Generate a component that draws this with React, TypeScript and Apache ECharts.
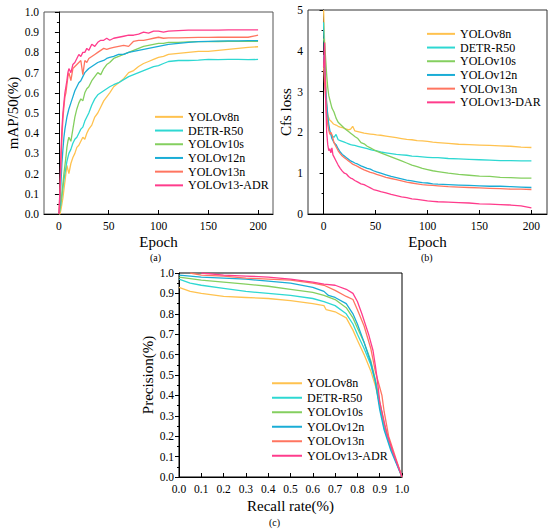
import React, { useEffect, useRef } from "react";
import * as echarts from "echarts";

const EPOCHS = [0, 1, 2, 3, 4, 5, 6, 7, 8, 9, 10, 12, 14, 16, 18, 20, 22, 24, 26, 28, 30, 33, 36, 39, 42, 45, 48, 51, 55, 60, 65, 70, 75, 80, 85, 90, 95, 100, 105, 110, 120, 130, 140, 150, 160, 170, 180, 190, 200];

const NAMES_A = ["YOLOv8n", "DETR-R50", "YOLOv10s", "YOLOv12n", "YOLOv13n", "YOLOv13-ADR"];
const NAMES_B = ["YOLOv8n", "DETR-R50", "YOLOv10s", "YOLOv12n", "YOLOv13n", "YOLOv13-DAR"];
const NAMES_C = ["YOLOv8n", "DETR-R50", "YOLOv10s", "YOLOv12n", "YOLOv13n", "YOLOv13-ADR"];
const COLORS = ["#FFC24F", "#2ED8D2", "#84CF5F", "#1AADD6", "#FF7560", "#FF3C8C"];

const EPOCH_TICKS = [0, 50, 100, 150, 200];

// (a) mAP/50
const MAP_V8N = [0.0, 0.0, 0.02, 0.05, 0.08, 0.12, 0.16, 0.2, 0.24, 0.22, 0.2, 0.25, 0.28, 0.3, 0.33, 0.34, 0.36, 0.38, 0.37, 0.4, 0.42, 0.44, 0.48, 0.5, 0.53, 0.56, 0.58, 0.6, 0.63, 0.65, 0.67, 0.7, 0.71, 0.73, 0.745, 0.755, 0.765, 0.775, 0.78, 0.79, 0.795, 0.8, 0.805, 0.805, 0.81, 0.815, 0.82, 0.825, 0.828];
const MAP_DETR = [0.0, 0.02, 0.05, 0.09, 0.13, 0.17, 0.2, 0.23, 0.26, 0.28, 0.3, 0.32, 0.35, 0.37, 0.38, 0.4, 0.42, 0.43, 0.46, 0.48, 0.5, 0.54, 0.57, 0.59, 0.6, 0.61, 0.62, 0.63, 0.64, 0.65, 0.665, 0.68, 0.69, 0.7, 0.71, 0.72, 0.73, 0.735, 0.745, 0.755, 0.76, 0.76, 0.762, 0.765, 0.764, 0.765, 0.765, 0.764, 0.765];
const MAP_V10S = [0.0, 0.02, 0.06, 0.1, 0.15, 0.2, 0.24, 0.28, 0.33, 0.36, 0.38, 0.36, 0.42, 0.48, 0.52, 0.55, 0.57, 0.56, 0.6, 0.62, 0.63, 0.66, 0.68, 0.7, 0.69, 0.72, 0.74, 0.75, 0.77, 0.78, 0.79, 0.8, 0.81, 0.82, 0.83, 0.835, 0.84, 0.845, 0.845, 0.85, 0.85, 0.852, 0.853, 0.853, 0.854, 0.855, 0.855, 0.855, 0.855];
const MAP_V12N = [0.0, 0.05, 0.15, 0.25, 0.32, 0.38, 0.42, 0.45, 0.48, 0.5, 0.52, 0.55, 0.58, 0.61, 0.63, 0.65, 0.66, 0.68, 0.7, 0.71, 0.72, 0.73, 0.74, 0.75, 0.755, 0.76, 0.77, 0.775, 0.78, 0.79, 0.79, 0.8, 0.805, 0.81, 0.815, 0.82, 0.825, 0.83, 0.835, 0.84, 0.845, 0.85, 0.853, 0.855, 0.856, 0.857, 0.857, 0.858, 0.858];
const MAP_V13N = [0.0, 0.1, 0.25, 0.38, 0.47, 0.53, 0.58, 0.6, 0.64, 0.68, 0.7, 0.66, 0.72, 0.73, 0.74, 0.75, 0.76, 0.69, 0.76, 0.75, 0.77, 0.78, 0.79, 0.8, 0.81, 0.82, 0.815, 0.82, 0.825, 0.83, 0.835, 0.83, 0.855, 0.86, 0.86, 0.865, 0.87, 0.875, 0.87, 0.872, 0.872, 0.873, 0.874, 0.874, 0.875, 0.875, 0.875, 0.875, 0.885];
const MAP_ADR = [0.0, 0.12, 0.3, 0.42, 0.5, 0.55, 0.6, 0.63, 0.66, 0.7, 0.72, 0.7, 0.74, 0.75, 0.77, 0.79, 0.78, 0.8, 0.8, 0.82, 0.81, 0.84, 0.83, 0.85, 0.86, 0.86, 0.87, 0.86, 0.87, 0.875, 0.88, 0.885, 0.885, 0.89, 0.9, 0.895, 0.905, 0.905, 0.9, 0.905, 0.908, 0.91, 0.91, 0.91, 0.91, 0.912, 0.912, 0.912, 0.912];

// (b) Cls loss
const LOSS_V8N = [5.0, 4.2, 3.3, 2.7, 2.45, 2.35, 2.3, 2.28, 2.25, 2.22, 2.2, 2.18, 2.15, 2.13, 2.12, 2.1, 2.08, 2.06, 2.08, 2.15, 2.04, 2.02, 2.0, 1.98, 1.97, 1.96, 1.95, 1.94, 1.93, 1.91, 1.89, 1.87, 1.85, 1.83, 1.82, 1.8, 1.79, 1.78, 1.76, 1.75, 1.73, 1.71, 1.7, 1.69, 1.68, 1.67, 1.66, 1.64, 1.63];
const LOSS_DETR = [4.7, 3.8, 3.0, 2.6, 2.3, 2.1, 2.0, 1.95, 1.92, 1.9, 1.88, 1.95, 1.82, 1.8, 1.78, 1.76, 1.74, 1.72, 1.7, 1.69, 1.68, 1.66, 1.64, 1.62, 1.6, 1.58, 1.56, 1.55, 1.52, 1.5, 1.48, 1.46, 1.45, 1.44, 1.42, 1.41, 1.4, 1.39, 1.38, 1.38, 1.36, 1.35, 1.34, 1.33, 1.32, 1.31, 1.31, 1.3, 1.3];
const LOSS_V10S = [4.3, 4.2, 3.8, 3.4, 3.1, 2.9, 2.8, 2.7, 2.6, 2.55, 2.5, 2.35, 2.25, 2.2, 2.15, 2.1, 2.06, 2.02, 1.98, 1.94, 1.9, 1.85, 1.75, 1.72, 1.66, 1.62, 1.58, 1.54, 1.5, 1.45, 1.4, 1.35, 1.3, 1.25, 1.2, 1.16, 1.12, 1.09, 1.06, 1.04, 1.0, 0.97, 0.95, 0.93, 0.92, 0.9, 0.89, 0.88, 0.88];
const LOSS_V12N = [3.9, 3.5, 3.0, 2.7, 2.4, 2.2, 2.05, 1.95, 1.85, 1.8, 1.75, 1.7, 1.6, 1.52, 1.46, 1.42, 1.38, 1.34, 1.3, 1.28, 1.25, 1.22, 1.18, 1.15, 1.12, 1.1, 1.06, 1.03, 1.0, 0.96, 0.92, 0.89, 0.86, 0.83, 0.81, 0.79, 0.77, 0.76, 0.74, 0.73, 0.72, 0.71, 0.7, 0.69, 0.68, 0.68, 0.67, 0.66, 0.65];
const LOSS_V13N = [3.6, 3.2, 2.8, 2.4, 2.2, 2.05, 1.95, 2.0, 1.95, 1.85, 1.75, 1.65, 1.55, 1.48, 1.42, 1.38, 1.34, 1.3, 1.26, 1.22, 1.2, 1.16, 1.12, 1.08, 1.05, 1.02, 1.0, 0.97, 0.94, 0.9, 0.87, 0.84, 0.81, 0.78, 0.76, 0.74, 0.72, 0.71, 0.7, 0.69, 0.67, 0.66, 0.65, 0.64, 0.63, 0.62, 0.61, 0.61, 0.6];
const LOSS_DAR = [3.6, 4.2, 2.8, 2.0, 1.7, 1.55, 1.6, 1.5, 1.62, 1.45, 1.4, 1.3, 1.2, 1.12, 1.05, 1.0, 0.98, 0.92, 0.88, 0.86, 0.82, 0.78, 0.74, 0.72, 0.68, 0.64, 0.6, 0.58, 0.55, 0.52, 0.48, 0.45, 0.42, 0.4, 0.37, 0.36, 0.34, 0.32, 0.31, 0.3, 0.29, 0.28, 0.27, 0.25, 0.24, 0.23, 0.22, 0.2, 0.15];

// (c) Precision-Recall
const PR_V8N_R = [0, 0.05, 0.1, 0.2, 0.3, 0.4, 0.5, 0.6, 0.65, 0.66, 0.7, 0.75, 0.78, 0.8, 0.83, 0.86, 0.88, 0.9, 0.92, 0.95, 1.0];
const PR_V8N_P = [0.93, 0.91, 0.9, 0.885, 0.88, 0.875, 0.865, 0.85, 0.84, 0.82, 0.81, 0.78, 0.72, 0.67, 0.6, 0.52, 0.45, 0.36, 0.26, 0.15, 0.0];
const PR_DETR_R = [0, 0.05, 0.1, 0.2, 0.3, 0.4, 0.5, 0.6, 0.65, 0.7, 0.75, 0.78, 0.8, 0.83, 0.86, 0.88, 0.9, 0.92, 0.95, 1.0];
const PR_DETR_P = [0.97, 0.95, 0.94, 0.925, 0.91, 0.9, 0.89, 0.875, 0.86, 0.84, 0.8, 0.75, 0.7, 0.63, 0.55, 0.47, 0.35, 0.24, 0.14, 0.0];
const PR_V10S_R = [0, 0.1, 0.2, 0.3, 0.4, 0.5, 0.6, 0.65, 0.7, 0.75, 0.78, 0.8, 0.83, 0.86, 0.88, 0.9, 0.92, 0.95, 1.0];
const PR_V10S_P = [0.98, 0.965, 0.955, 0.945, 0.935, 0.92, 0.905, 0.89, 0.87, 0.83, 0.78, 0.73, 0.66, 0.57, 0.48, 0.37, 0.26, 0.15, 0.0];
const PR_V12N_R = [0, 0.1, 0.2, 0.3, 0.4, 0.5, 0.6, 0.65, 0.67, 0.7, 0.75, 0.78, 0.8, 0.83, 0.86, 0.88, 0.9, 0.92, 0.95, 1.0];
const PR_V12N_P = [0.99, 0.98, 0.975, 0.97, 0.96, 0.95, 0.93, 0.91, 0.89, 0.88, 0.85, 0.8, 0.75, 0.66, 0.56, 0.47, 0.33, 0.23, 0.13, 0.0];
const PR_V13N_R = [0.05, 0.1, 0.2, 0.3, 0.4, 0.5, 0.6, 0.65, 0.7, 0.75, 0.78, 0.8, 0.83, 0.86, 0.88, 0.9, 0.91, 0.92, 0.94, 0.97, 1.0];
const PR_V13N_P = [1.0, 0.99, 0.985, 0.975, 0.97, 0.965, 0.95, 0.94, 0.915, 0.885, 0.87, 0.82, 0.74, 0.63, 0.52, 0.44, 0.4, 0.32, 0.2, 0.1, 0.0];
const PR_ADR_R = [0.1, 0.2, 0.3, 0.4, 0.5, 0.6, 0.65, 0.7, 0.75, 0.78, 0.8, 0.82, 0.85, 0.87, 0.88, 0.89, 0.9, 0.91, 0.93, 0.96, 1.0];
const PR_ADR_P = [1.0, 0.99, 0.985, 0.98, 0.97, 0.955, 0.945, 0.94, 0.92, 0.9, 0.86, 0.8, 0.7, 0.62, 0.55, 0.47, 0.37, 0.32, 0.22, 0.12, 0.0];

const MAP_SERIES = [MAP_V8N, MAP_DETR, MAP_V10S, MAP_V12N, MAP_V13N, MAP_ADR];
const LOSS_SERIES = [LOSS_V8N, LOSS_DETR, LOSS_V10S, LOSS_V12N, LOSS_V13N, LOSS_DAR];
const PR_SERIES = [
  [PR_V8N_R, PR_V8N_P],
  [PR_DETR_R, PR_DETR_P],
  [PR_V10S_R, PR_V10S_P],
  [PR_V12N_R, PR_V12N_P],
  [PR_V13N_R, PR_V13N_P],
  [PR_ADR_R, PR_ADR_P],
];

const FONT = "Liberation Serif";

function xEpochAxis(gridIndex: number) {
  return {
    type: "value",
    gridIndex,
    min: -15,
    max: 215,
    name: "Epoch",
    nameLocation: "middle",
    nameGap: 20,
    nameTextStyle: { fontFamily: FONT, fontSize: 15, color: "#000" },
    axisLine: { show: true, lineStyle: { color: "#000", width: 1 } },
    axisTick: { show: true, inside: true, length: 4, customValues: EPOCH_TICKS, lineStyle: { color: "#000" } },
    axisLabel: { customValues: EPOCH_TICKS, fontFamily: FONT, fontSize: 11.5, color: "#000", margin: 6 },
    splitLine: { show: false },
  };
}

function yAxis(gridIndex: number, max: number, interval: number, name: string, nameGap: number, decimals: number) {
  return {
    type: "value",
    gridIndex,
    min: 0,
    max,
    interval,
    name,
    nameLocation: "middle",
    nameGap,
    nameTextStyle: { fontFamily: FONT, fontSize: 15, color: "#000" },
    axisLine: { show: true, lineStyle: { color: "#000", width: 1 } },
    axisTick: { show: true, inside: false, length: 4, lineStyle: { color: "#000" } },
    minorTick: { show: true, splitNumber: 2, length: 2, lineStyle: { color: "#000" } },
    axisLabel: {
      fontFamily: FONT,
      fontSize: 11.5,
      color: "#000",
      margin: 5,
      formatter: (v: number) => v.toFixed(decimals),
    },
    splitLine: { show: false },
  };
}

function legend(left: number, top: number, names: string[], lineHeight: number, itemWidth: number) {
  return {
    orient: "vertical",
    left,
    top,
    data: names,
    icon: "rect",
    itemWidth,
    itemHeight: 2,
    itemGap: 0,
    selectedMode: false,
    textStyle: { fontFamily: FONT, fontSize: 12, color: "#000", lineHeight },
  };
}

export default function App() {
  const ref = useRef<HTMLDivElement>(null);

  useEffect(() => {
    if (!ref.current) return;
    const chart = echarts.init(ref.current, null, { renderer: "svg" });

    const series: any[] = [];
    MAP_SERIES.forEach((vals, i) => {
      series.push({
        type: "line",
        name: NAMES_A[i],
        xAxisIndex: 0,
        yAxisIndex: 0,
        data: EPOCHS.map((e, j) => [e, vals[j]]),
        showSymbol: false,
        color: COLORS[i],
        lineStyle: { width: 1.3, color: COLORS[i] },
      });
    });
    LOSS_SERIES.forEach((vals, i) => {
      series.push({
        type: "line",
        name: NAMES_B[i],
        xAxisIndex: 1,
        yAxisIndex: 1,
        data: EPOCHS.map((e, j) => [e, vals[j]]),
        showSymbol: false,
        color: COLORS[i],
        lineStyle: { width: 1.3, color: COLORS[i] },
      });
    });
    PR_SERIES.forEach(([r, p], i) => {
      series.push({
        type: "line",
        name: NAMES_C[i],
        xAxisIndex: 2,
        yAxisIndex: 2,
        data: r.map((x, j) => [x, p[j]]),
        showSymbol: false,
        color: COLORS[i],
        lineStyle: { width: 1.3, color: COLORS[i] },
      });
    });

    const option: any = {
      animation: false,
      backgroundColor: "#fff",
      textStyle: { fontFamily: FONT },
      grid: [
        { left: 44, top: 12, width: 229, height: 202, show: true, borderColor: "#555", borderWidth: 1 },
        { left: 308, top: 10, width: 239, height: 204, show: true, borderColor: "#333", borderWidth: 1 },
        { left: 179, top: 273, width: 223, height: 204, show: true, borderColor: "#000", borderWidth: 1 },
      ],
      xAxis: [
        xEpochAxis(0),
        xEpochAxis(1),
        {
          type: "value",
          gridIndex: 2,
          min: 0,
          max: 1,
          interval: 0.1,
          name: "Recall rate(%)",
          nameLocation: "middle",
          nameGap: 21,
          nameTextStyle: { fontFamily: FONT, fontSize: 15, color: "#000" },
          axisLine: { show: true, lineStyle: { color: "#000", width: 1 } },
          axisTick: { show: true, inside: true, length: 4, lineStyle: { color: "#000" } },
          axisLabel: {
            fontFamily: FONT,
            fontSize: 11.5,
            color: "#000",
            margin: 6,
            formatter: (v: number) => v.toFixed(1),
          },
          splitLine: { show: false },
        },
      ],
      yAxis: [
        yAxis(0, 1, 0.1, "mAP/50(%)", 24, 1),
        yAxis(1, 5, 1, "Cfs loss", 13, 0),
        yAxis(2, 1, 0.1, "Precision(%)", 23, 1),
      ],
      legend: [
        legend(150, 105, NAMES_A, 13.7, 28),
        legend(422, 22, NAMES_B, 13.7, 28),
        legend(267, 371, NAMES_C, 14.5, 30),
      ],
      graphic: [
        { type: "text", left: 150, top: 252, style: { text: "(a)", fontFamily: FONT, fontSize: 10, fill: "#000" } },
        { type: "text", left: 421, top: 252, style: { text: "(b)", fontFamily: FONT, fontSize: 10, fill: "#000" } },
        { type: "text", left: 269, top: 517, style: { text: "(c)", fontFamily: FONT, fontSize: 10, fill: "#000" } },
      ],
      series,
    };

    chart.setOption(option);
    return () => chart.dispose();
  }, []);

  return (
    <div
      ref={ref}
      style={{ position: "fixed", left: 0, top: 0, width: 550, height: 531, background: "#fff" }}
    />
  );
}
